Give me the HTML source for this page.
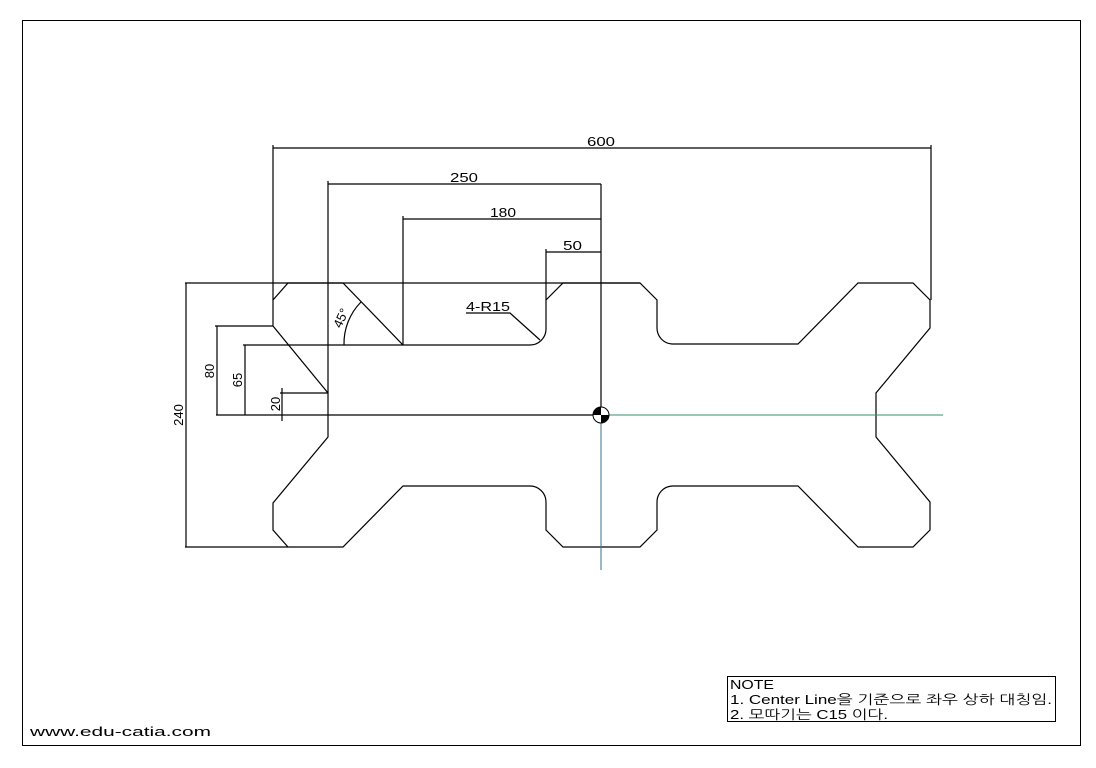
<!DOCTYPE html>
<html><head><meta charset="utf-8"><style>
html,body{margin:0;padding:0;background:#fff}
svg{display:block}
text{font-family:"Liberation Sans","NanumGothic",sans-serif;fill:#000}
</style></head><body>
<svg width="1096" height="768" viewBox="0 0 1096 768" xmlns="http://www.w3.org/2000/svg">
<rect x="22.5" y="20.5" width="1058" height="725" fill="none" stroke="#000" stroke-width="1"/>
<g fill="none" stroke="#000" stroke-width="1.2">
<path d="M288,283 L343,283 L403,345 L530,345 A16,16 0 0 0 546,329 L546,300 L563,283 L640,283 L657,300 L657,328 A16,16 0 0 0 672,344 L798,344 L858,283 L913,283 L930,300 L930,328 L876,393 L876,437 L930,502 L930,530 L913,547 L858,547 L798,486 L672,486 A16,16 0 0 0 657,502 L657,530 L640,547 L563,547 L546,530 L546,502 A16,16 0 0 0 530,486 L403,486 L343,547 L288,547 L273,530 L273,503 L328,437 L328,393 L273,326 L273,300 Z"/>
<line x1="185" y1="283" x2="640" y2="283"/>
<line x1="185" y1="547" x2="288" y2="547"/>
<line x1="273" y1="148" x2="931" y2="148"/>
<line x1="273" y1="145" x2="273" y2="300"/>
<line x1="931" y1="145" x2="931" y2="300"/>
<line x1="328" y1="184" x2="601" y2="184"/>
<line x1="328" y1="181" x2="328" y2="393"/>
<line x1="403" y1="219" x2="601" y2="219"/>
<line x1="403" y1="216" x2="403" y2="345"/>
<line x1="546" y1="252" x2="601" y2="252"/>
<line x1="546" y1="249" x2="546" y2="300"/>
<line x1="601" y1="184" x2="601" y2="415"/>
<line x1="216" y1="415" x2="601" y2="415"/>
<line x1="186" y1="283" x2="186" y2="547"/>
<line x1="217" y1="326" x2="217" y2="415"/>
<line x1="215" y1="326" x2="273" y2="326"/>
<line x1="245" y1="345" x2="245" y2="415"/>
<line x1="243" y1="345" x2="403" y2="345"/>
<line x1="282" y1="388" x2="282" y2="421"/>
<line x1="280" y1="393" x2="328" y2="393"/>
<path d="M344,345 A59,59 0 0 1 361,302"/>
<path d="M466,313 L510,313 L540,340"/>
</g>
<line x1="601" y1="415" x2="943" y2="415" stroke="#3a8f6a" stroke-width="1"/>
<line x1="601" y1="415" x2="601" y2="570" stroke="#3a6f8f" stroke-width="1"/>
<circle cx="601" cy="415" r="8" fill="#fff" stroke="#000" stroke-width="1"/>
<path d="M601,415 L593,415 A8,8 0 0 1 601,407 Z" fill="#000"/>
<path d="M601,415 L609,415 A8,8 0 0 1 601,423 Z" fill="#000"/>
<g font-size="13">
<text x="587" y="146" textLength="28" lengthAdjust="spacingAndGlyphs">600</text>
<text x="450" y="182" textLength="28" lengthAdjust="spacingAndGlyphs">250</text>
<text x="490" y="217" textLength="26" lengthAdjust="spacingAndGlyphs">180</text>
<text x="563" y="250" textLength="19" lengthAdjust="spacingAndGlyphs">50</text>
<text x="466" y="311" textLength="44" lengthAdjust="spacingAndGlyphs">4-R15</text>
<text transform="translate(183,415) rotate(-90)" text-anchor="middle">240</text>
<text transform="translate(214,371) rotate(-90)" text-anchor="middle">80</text>
<text transform="translate(242,380) rotate(-90)" text-anchor="middle">65</text>
<text transform="translate(280,404) rotate(-90)" text-anchor="middle">20</text>
<text transform="translate(345,320) rotate(-65)" text-anchor="middle">45°</text>
</g>
<rect x="727.5" y="676.5" width="328" height="45" fill="none" stroke="#000" stroke-width="1"/>
<g font-size="13" font-family="'Liberation Sans','NanumGothic',sans-serif">
<text x="730" y="689" textLength="44" lengthAdjust="spacingAndGlyphs">NOTE</text>
<text x="730" y="704" textLength="322" lengthAdjust="spacingAndGlyphs">1. Center Line을 기준으로 좌우 상하 대칭임.</text>
<text x="730" y="719" textLength="158" lengthAdjust="spacingAndGlyphs">2. 모따기는 C15 이다.</text>
<text x="30" y="736" textLength="181" lengthAdjust="spacingAndGlyphs">www.edu-catia.com</text>
</g>
</svg>
</body></html>
